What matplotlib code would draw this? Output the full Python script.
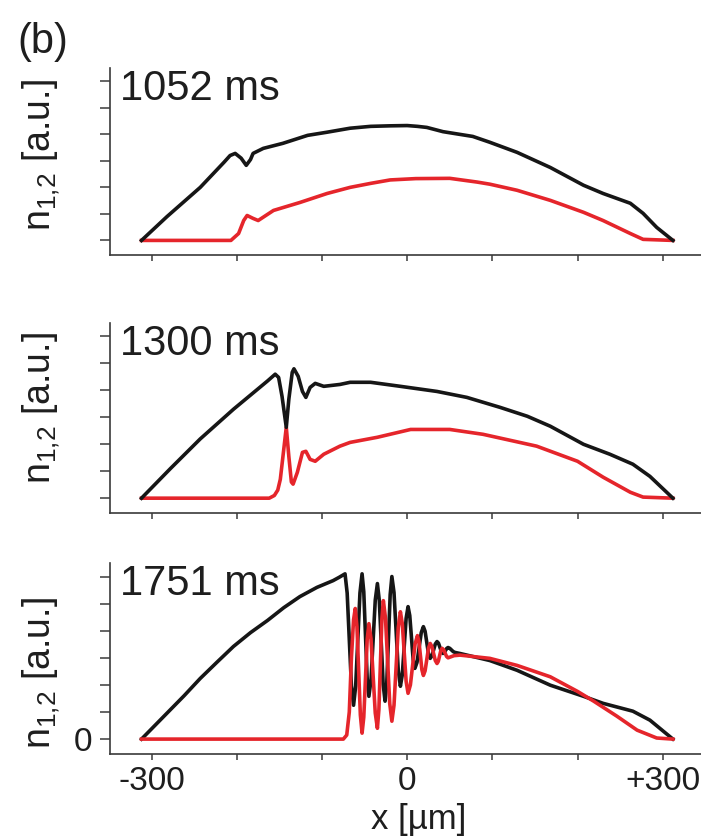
import matplotlib
matplotlib.use('Agg')
import matplotlib.pyplot as plt

plt.rcParams['font.family'] = ['Liberation Sans', 'DejaVu Sans']
plt.rcParams['mathtext.fontset'] = 'custom'
plt.rcParams['mathtext.rm'] = 'Liberation Sans'
plt.rcParams['mathtext.it'] = 'Liberation Sans:italic'

# density profiles n1 (black) and n2 (red) at three evolution times, x in um
times = ['1052 ms', '1300 ms', '1751 ms']

x_1052_n1 = [-312, -282, -243, -215, -208, -202, -195, -189, -184, -181, -169, -146, -117, -94,
             -67, -43, -20, 0, 12, 23, 42, 77, 97, 129, 168, 207, 230, 262, 277, 293, 312]
n_1052_n1 = [0, 0.9, 2.0, 2.95, 3.2, 3.28, 3.1, 2.83, 3.05, 3.28, 3.47, 3.66, 3.96, 4.08,
             4.23, 4.3, 4.32, 4.33, 4.3, 4.26, 4.1, 3.92, 3.7, 3.32, 2.75, 2.08, 1.77, 1.40,
             1.02, 0.49, 0]
x_1052_n2 = [-312, -207, -198, -192, -188, -181, -175, -157, -126, -94, -67, -43, -20, 10, 50,
             82, 97, 129, 168, 207, 230, 262, 277, 312]
n_1052_n2 = [0, 0, 0.26, 0.75, 0.94, 0.83, 0.75, 1.13, 1.43, 1.77, 2.0, 2.15, 2.28, 2.33, 2.34,
             2.2, 2.12, 1.89, 1.51, 1.06, 0.75, 0.26, 0.04, 0]

x_1300_n1 = [-312, -278, -243, -204, -164, -155, -151, -147, -142, -139, -135, -133, -128,
             -123, -119, -114, -108, -98, -79, -67, -43, -8, 35, 70, 109, 141, 168, 207, 238,
             265, 285, 312]
n_1300_n1 = [0, 1.1, 2.2, 3.3, 4.35, 4.6, 4.48, 3.78, 2.63, 3.67, 4.67, 4.8, 4.52,
             3.96, 3.74, 4.11, 4.26, 4.15, 4.22, 4.3, 4.3, 4.15, 3.96, 3.74, 3.37, 3.04, 2.67,
             2.0, 1.63, 1.26, 0.81, 0]
x_1300_n2 = [-312, -162, -156, -152, -149, -145, -142, -139, -136, -134, -129, -123, -119, -114,
             -108, -98, -79, -67, -35, 4, 50, 89, 152, 200, 230, 262, 277, 312]
n_1300_n2 = [0, 0, 0.1, 0.3, 0.7, 1.8, 2.63, 1.55, 0.6, 0.52, 0.96, 1.7, 1.74, 1.44,
             1.37, 1.63, 1.93, 2.07, 2.26, 2.55, 2.55, 2.37, 1.93, 1.37, 0.78, 0.22, 0.04, 0]

x_1751_n1 = [-312, -282, -262, -243, -223, -204, -184, -164, -145, -126, -106, -87, -80, -73,
             -70.5, -65.5, -63, -60.5, -55.5, -53, -51, -47, -45, -42.5, -37.5, -35, -32.75,
             -28.25, -26, -24, -20, -18, -15.5, -10.5, -8, -5.75, -1.25, 1, 3, 7, 9, 11.5, 16.5,
             19, 21, 25, 27, 29, 33, 35, 36.75, 40.25, 42, 43.5, 46.5, 48, 50, 54, 56, 62, 97,
             129, 168, 207, 230, 265, 285, 312]
n_1751_n1 = [0, 0.96, 1.6, 2.24, 2.85, 3.42, 3.93, 4.38, 4.85, 5.26, 5.6, 5.85, 5.97, 6.1,
             5.39, 1.96, 1.25, 1.96, 5.39, 6.1, 5.44, 2.24, 1.58, 2.19, 5.13, 5.74, 5.11,
             2.03, 1.4, 2.07, 5.33, 6.0, 5.41, 2.54, 1.95, 2.38, 4.46, 4.89, 4.56, 2.94, 2.61,
             2.83, 3.93, 4.15, 3.98, 3.15, 2.98, 3.07, 3.51, 3.6, 3.54, 3.22, 3.16, 3.19, 3.35,
             3.38, 3.35, 3.23, 3.2, 3.16, 2.9, 2.54, 1.99, 1.58, 1.32, 1.03, 0.7, 0]
x_1751_n2 = [-312, -75, -71, -68, -65.5, -63, -61, -59, -55, -53, -51, -47, -45, -42.5, -37.5,
             -35, -33.25, -29.75, -28, -25.5, -20.5, -18, -15.5, -10.5, -8, -5.75, -1.25, 1,
             3.75, 9.25, 12, 13.75, 17.25, 19, 21, 25, 27, 29, 33, 35, 36.5, 39.5, 41, 42.75,
             46.25, 48, 55, 62, 97, 129, 168, 200, 219, 246, 270, 293, 312]
n_1751_n2 = [0, 0, 0.15, 1.0, 3.0, 4.4, 4.82, 4.15, 0.89, 0.22, 0.81, 3.67, 4.26, 3.70, 0.96,
             0.4, 1.09, 4.42, 5.11, 4.46, 1.31, 0.66, 1.25, 4.11, 4.7, 4.26, 2.13, 1.69,
             2.0, 3.51, 3.82, 3.61, 2.56, 2.35, 2.52, 3.36, 3.53, 3.42, 2.9, 2.79, 2.87, 3.27,
             3.35, 3.3, 3.05, 3.0, 3.08, 3.1, 2.98, 2.72, 2.3, 1.76, 1.4, 0.85, 0.33, 0.04, 0]

profiles = [
    (x_1052_n1, n_1052_n1, x_1052_n2, n_1052_n2),
    (x_1300_n1, n_1300_n1, x_1300_n2, n_1300_n2),
    (x_1751_n1, n_1751_n1, x_1751_n2, n_1751_n2),
]

xticks = [-300, -200, -100, 0, 100, 200, 300]
xticklabels = ['-300', '', '', '0', '', '', '+300']
yticks = [0, 1, 2, 3, 4, 5, 6]

W, H = 701, 839
fig = plt.figure(figsize=(W / 100, H / 100), dpi=100)

# panel frames in pixels: (top, bottom) of each axes box
frames = [(68, 255), (323, 513), (563, 754)]
ylabel_y = [0.535, 0.553, 0.424]
left, right = 110, 701

spine_col = '#3a3a3a'
txt_col = '#1e1e1e'

for i, ((top, bot), prof) in enumerate(zip(frames, profiles)):
    ax = fig.add_axes([left / W, (H - bot) / H, (right - left) / W, (bot - top) / H])
    xb, nb, xr, nr = prof
    # in the last panel the red peaks sit on top of the black dips
    zb, zr = (2, 3) if i == 2 else (3, 2)
    ax.plot(xb, nb, color='#161616', lw=2.6, solid_joinstyle='round', zorder=zb)
    ax.plot(xr, nr, color='#e5252b', lw=2.6, solid_joinstyle='round', zorder=zr)

    ax.set_xlim(-349, 345)
    ax.set_ylim(-0.55, 6.5)

    for s in ['top', 'right']:
        ax.spines[s].set_visible(False)
    for s in ['left', 'bottom']:
        ax.spines[s].set_color(spine_col)
        ax.spines[s].set_linewidth(1.2)

    ax.set_xticks(xticks)
    ax.set_yticks(yticks)
    ax.tick_params(axis='y', length=7, width=1.1, color=spine_col, pad=6,
                   labelsize=24, labelcolor=txt_col)
    ax.tick_params(axis='x', length=4, width=1.1, color=spine_col, pad=5,
                   labelsize=24, labelcolor=txt_col)
    if i == 2:
        ax.set_xticklabels(xticklabels)
        ax.set_yticklabels(['0', '', '', '', '', '', ''])
        ax.set_xlabel('x [µm]', fontsize=25, color=txt_col)
        ax.xaxis.set_label_coords(0.523, -0.257)
        ax.xaxis.label.set_va('top')
    else:
        ax.set_xticklabels([])
        ax.set_yticklabels([])

    ax.set_ylabel(r'$\mathrm{n}_{1{,}2}$ [a.u.]', fontsize=27, color=txt_col)
    ax.yaxis.set_label_coords(-0.081, ylabel_y[i])

    ax.text(0.017, 0.995, times[i], transform=ax.transAxes, fontsize=30,
            color=txt_col, ha='left', va='top')

fig.text(17 / W, 1 - 53 / H, '(b)', fontsize=30, color=txt_col, ha='left', va='baseline')

fig.savefig('out.png', dpi=100)
